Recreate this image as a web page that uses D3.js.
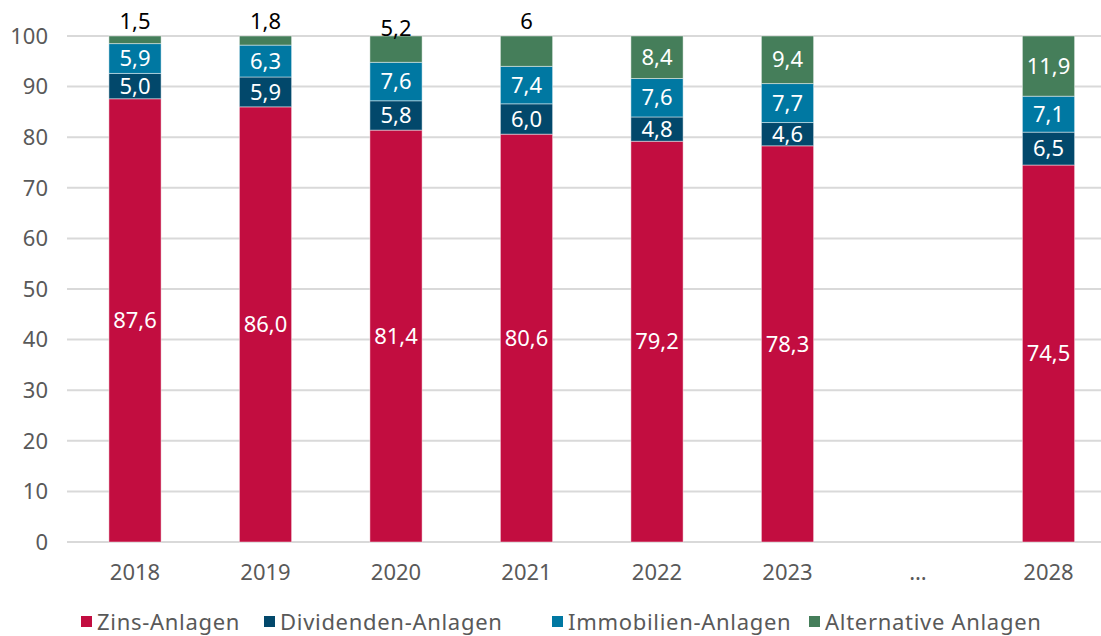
<!DOCTYPE html>
<html><head><meta charset="utf-8">
<script src="https://cdn.jsdelivr.net/npm/d3@7"></script>
<style>body{margin:0;background:#fff;}svg{display:block;font-family:"Noto Sans","Open Sans",sans-serif;}</style>
</head><body><svg id="c" width="1101" height="636"></svg>
<script>
const categories = ["2018","2019","2020","2021","2022","2023","…","2028"];
const seriesNames = ["Zins-Anlagen","Dividenden-Anlagen","Immobilien-Anlagen","Alternative Anlagen"];
const zins = [87.6, 86.0, 81.4, 80.6, 79.2, 78.3, null, 74.5];
const dividenden = [5.0, 5.9, 5.8, 6.0, 4.8, 4.6, null, 6.5];
const immobilien = [5.9, 6.3, 7.6, 7.4, 7.6, 7.7, null, 7.1];
const alternative = [1.5, 1.8, 5.2, 6, 8.4, 9.4, null, 11.9];
const yTicks = [0,10,20,30,40,50,60,70,80,90,100];
const colors = ["#C20D40","#02486B","#0078A2","#457E5A"];

const svg = d3.select("#c");
const x = d3.scaleBand().domain(categories).range([69.75, 1113.75]).paddingInner(0.6).paddingOuter(0.3);
const y = d3.scaleLinear().domain([0,100]).range([542, 36]);
const FS = 22;

// grid
svg.append("g").selectAll("line").data(yTicks).join("line")
  .attr("x1", 67).attr("x2", 1101)
  .attr("y1", d => y(d)).attr("y2", d => y(d))
  .attr("stroke", "#d9d9d9").attr("stroke-width", 2);

// y labels
svg.append("g").selectAll("text").data(yTicks).join("text")
  .attr("x", 48).attr("y", d => y(d)).attr("dy", "0.35em")
  .attr("text-anchor", "end").attr("font-size", FS).attr("fill", "#595959")
  .text(d => d);

// x labels
svg.append("g").selectAll("text").data(categories).join("text")
  .attr("x", d => x(d) + x.bandwidth()/2).attr("y", 572).attr("dy", "0.35em")
  .attr("text-anchor", "middle").attr("font-size", FS).attr("fill", "#595959")
  .text(d => d);

const series = [zins, dividenden, immobilien, alternative];
const rows = categories.map((c, i) => {
  const r = {cat: c};
  seriesNames.forEach((s, k) => r[s] = series[k][i] == null ? 0 : series[k][i]);
  r.valid = series[0][i] != null;
  return r;
});
const stacked = d3.stack().keys(seriesNames)(rows);

const fmt1 = d3.format(".1f"), fmtTrim = d3.format(".1~f");
stacked.forEach((layer, k) => {
  const g = svg.append("g");
  const data = layer.filter(d => d.data.valid);
  g.selectAll("rect").data(data).join("rect")
    .attr("x", d => x(d.data.cat)).attr("width", x.bandwidth())
    .attr("y", d => y(d[1])).attr("height", d => y(d[0]) - y(d[1]))
    .attr("fill", colors[k]).attr("stroke", "rgba(255,255,255,0.45)").attr("stroke-width", 1);
  g.selectAll("text").data(data).join("text")
    .attr("x", d => x(d.data.cat) + x.bandwidth()/2)
    .attr("y", d => {
      const v = d[1] - d[0];
      if (k === 3 && v < 6.5) return y(d[1]) - (v > 5 && v < 5.9 ? 8 : 15);
      return (y(d[0]) + y(d[1]))/2;
    })
    .attr("dy", "0.35em").attr("text-anchor", "middle").attr("font-size", FS)
    .attr("fill", d => (k === 3 && (d[1]-d[0]) < 6.5) ? "#000" : "#fff")
    .text(d => (k === 3 ? fmtTrim(d[1]-d[0]) : fmt1(d[1]-d[0])).replace(".", ","));
});

// legend
const legX = [81, 264, 552, 809];
const leg = svg.append("g");
seriesNames.forEach((s, k) => {
  leg.append("rect").attr("x", legX[k]).attr("y", 616).attr("width", 11).attr("height", 11).attr("fill", colors[k]);
  leg.append("text").attr("x", legX[k] + 16).attr("y", 622).attr("dy", "0.35em")
    .attr("font-size", FS).attr("letter-spacing", 0.7).attr("fill", "#595959").text(s);
});
</script></body></html>
